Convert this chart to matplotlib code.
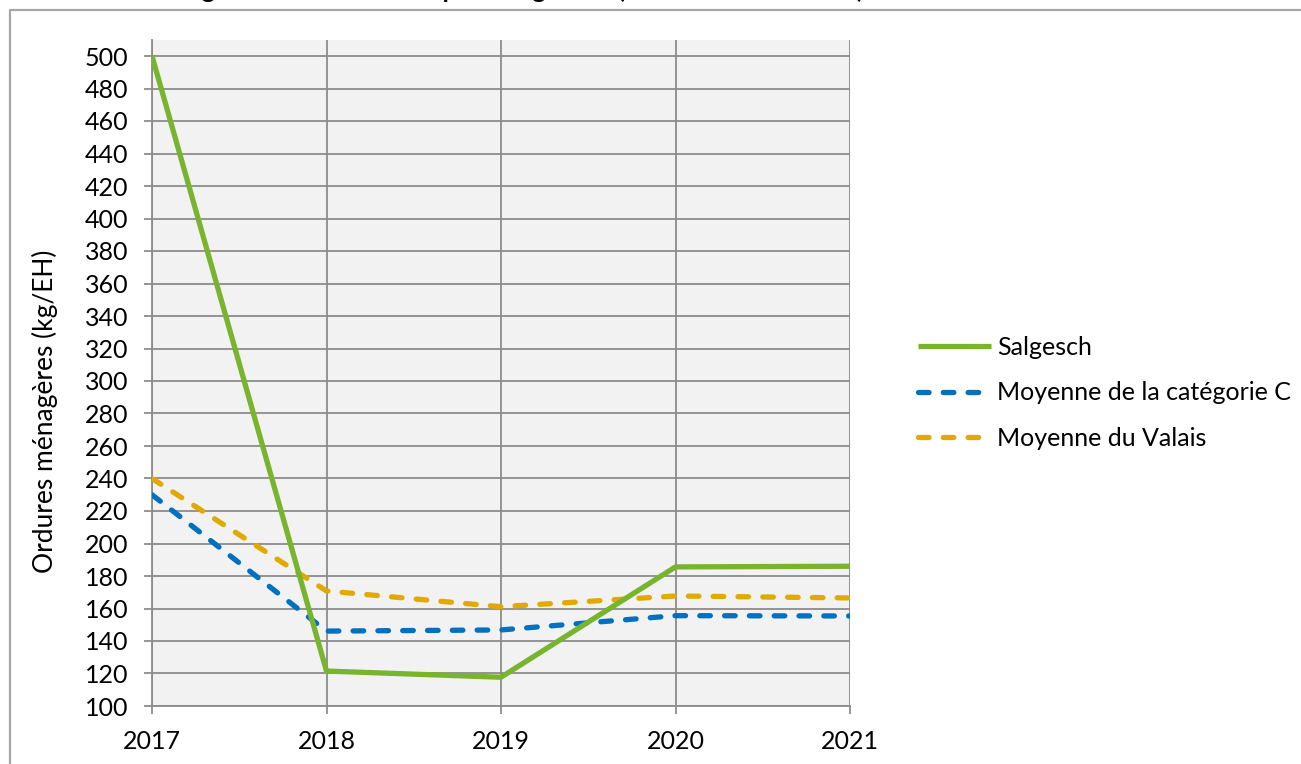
import matplotlib.pyplot as plt
from matplotlib.lines import Line2D

plt.rcParams["font.family"] = ["Lato", "DejaVu Sans"]

# data
years = [2017, 2018, 2019, 2020, 2021]
salgesch = [500, 121.5, 117.7, 185.6, 186.0]
moy_cat_c = [230, 146.1, 146.8, 155.6, 155.4]
moy_valais = [240, 170.8, 161.1, 167.7, 166.5]

labels = ["Salgesch", "Moyenne de la catégorie C", "Moyenne du Valais"]
colors = ["#78B42E", "#0070C0", "#E2AA00"]

W, H = 1301, 764
fig = plt.figure(figsize=(W / 100, H / 100), dpi=100)

# axes box in pixel terms -> figure fraction
left, right, top, bottom = 152, 850, 40, 706
ax = fig.add_axes([left / W, 1 - bottom / H, (right - left) / W, (bottom - top) / H])
ax.set_facecolor("#F2F2F2")

ax.plot(years, salgesch, color=colors[0], lw=3.8, solid_capstyle="butt",
        label=labels[0], zorder=5)
ax.plot(years, moy_cat_c, color=colors[1], lw=3.8, dashes=(2.0, 2.7),
        dash_capstyle="round", label=labels[1], zorder=4)
ax.plot(years, moy_valais, color=colors[2], lw=3.8, dashes=(2.0, 2.7),
        dash_capstyle="round", label=labels[2], zorder=4)

ax.set_xlim(2017, 2021)
ax.set_ylim(100, 100 + (bottom - top) / 1.625)
ax.set_yticks(range(100, 501, 20))
ax.set_xticks(years)

grid_col = "#8C8C8C"
ax.grid(True, color=grid_col, lw=1.3, zorder=1)
ax.set_axisbelow(True)
for s in ["top", "right"]:
    ax.spines[s].set_visible(False)
for s in ["left", "bottom"]:
    ax.spines[s].set_color(grid_col)
    ax.spines[s].set_linewidth(1.3)
ax.tick_params(axis="both", colors=grid_col, length=6, width=1.3,
               labelcolor="black", labelsize=18)
ax.tick_params(axis="y", pad=11)
ax.tick_params(axis="x", pad=11)

fig.text(45 / W, 1 - 411 / H, "Ordures ménagères (kg/EH)", rotation=90,
         ha="center", va="center", fontsize=19)

leg = fig.legend(loc="upper left", bbox_to_anchor=(918 / W, 1 - 336 / H),
                 frameon=False, fontsize=18, handlelength=2.9,
                 handletextpad=0.25, labelspacing=0.9, borderpad=0,
                 borderaxespad=0)

# title, mostly cut off by the top edge in the reference
fig.text(43 / W, 1 + 2 / H,
         "Ordures ménagères de la commune par catégorie C (kilos de 2017 à 2021)",
         ha="left", va="baseline", fontsize=18, fontweight="bold")

# outer chart frame
frame_col = "#A6A6A6"
fig.add_artist(Line2D([10 / W, 10 / W, 1.0], [0.0, 1 - 10 / H, 1 - 10 / H],
                      transform=fig.transFigure, color=frame_col, lw=1.6))

fig.savefig("out.png", dpi=100)
